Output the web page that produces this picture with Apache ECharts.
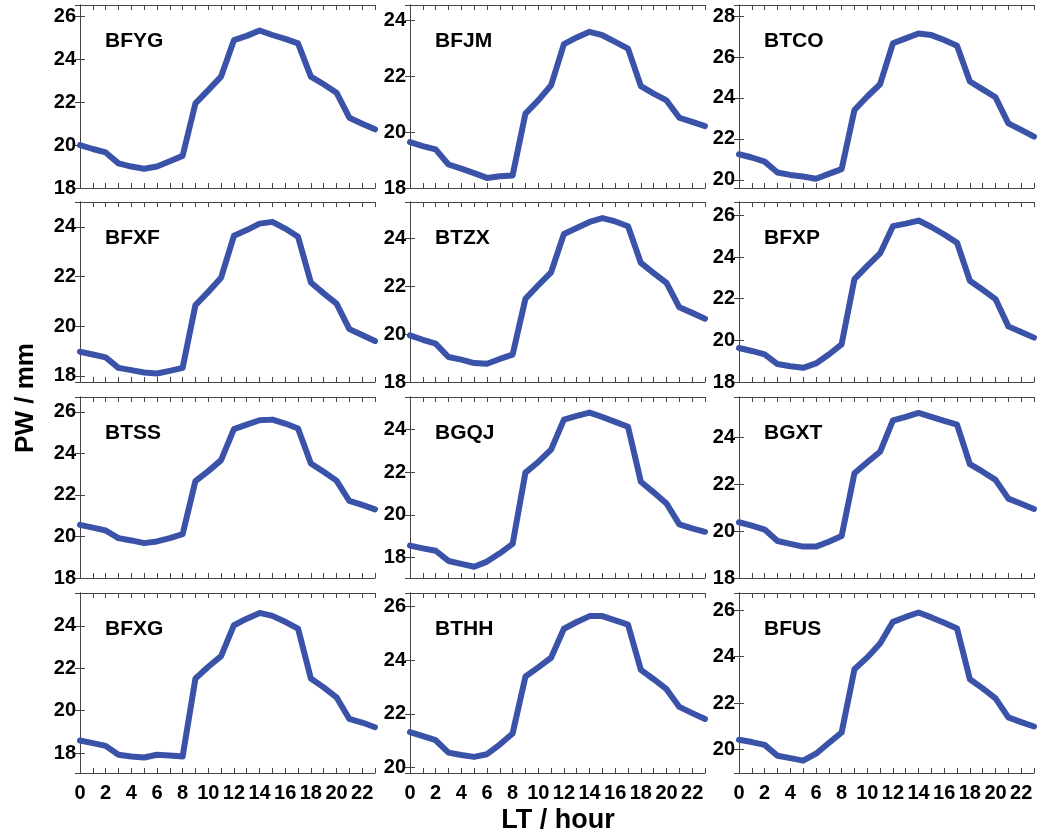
<!DOCTYPE html>
<html>
<head>
<meta charset="utf-8">
<script src="https://cdn.jsdelivr.net/npm/echarts@6/dist/echarts.min.js"></script>
<style>
html,body{margin:0;padding:0;background:#fff;}
#chart{width:1037px;height:839px;}
</style>
</head>
<body>
<div id="chart"></div>
<script>
const hours = [0,1,2,3,4,5,6,7,8,9,10,11,12,13,14,15,16,17,18,19,20,21,22,23];
const xTickLabels = ['0','2','4','6','8','10','12','14','16','18','20','22'];
const stations = ['BFYG','BFJM','BTCO','BFXF','BTZX','BFXP','BTSS','BGQJ','BGXT','BFXG','BTHH','BFUS'];

const BFYG = [20.0,19.82,19.66,19.15,19.0,18.9,19.0,19.25,19.5,21.95,22.57,23.2,24.9,25.1,25.35,25.14,24.96,24.75,23.2,22.84,22.45,21.28,21.0,20.74];
const BFJM = [19.64,19.5,19.38,18.84,18.69,18.53,18.36,18.42,18.45,20.66,21.13,21.67,23.14,23.38,23.58,23.46,23.22,22.98,21.64,21.37,21.13,20.51,20.36,20.21];
const BTCO = [21.25,21.09,20.89,20.36,20.24,20.16,20.05,20.29,20.52,23.41,24.07,24.67,26.67,26.91,27.15,27.07,26.83,26.55,24.8,24.42,24.03,22.76,22.44,22.11];
const BFXF = [18.97,18.86,18.74,18.32,18.23,18.13,18.09,18.2,18.32,20.85,21.38,21.95,23.64,23.87,24.13,24.2,23.93,23.6,21.76,21.32,20.91,19.88,19.64,19.4];
const BTZX = [19.94,19.76,19.6,19.04,18.93,18.79,18.76,18.96,19.14,21.47,22.03,22.57,24.17,24.42,24.67,24.83,24.69,24.49,22.96,22.54,22.13,21.11,20.88,20.64];
const BFXP = [19.63,19.49,19.33,18.86,18.76,18.68,18.89,19.32,19.81,22.94,23.57,24.17,25.48,25.6,25.75,25.44,25.08,24.68,22.86,22.43,21.98,20.67,20.4,20.13];
const BTSS = [20.56,20.43,20.29,19.92,19.81,19.68,19.76,19.92,20.11,22.67,23.15,23.68,25.17,25.39,25.6,25.63,25.44,25.2,23.52,23.12,22.69,21.71,21.52,21.31];
const BGQJ = [18.55,18.42,18.31,17.83,17.69,17.56,17.8,18.19,18.63,21.98,22.48,23.06,24.47,24.64,24.8,24.59,24.36,24.13,21.55,21.05,20.53,19.55,19.36,19.2];
const BGXT = [20.38,20.24,20.07,19.58,19.46,19.34,19.34,19.55,19.79,22.47,22.94,23.39,24.73,24.88,25.05,24.88,24.71,24.55,22.86,22.54,22.19,21.39,21.17,20.95];
const BFXG = [18.59,18.47,18.34,17.92,17.84,17.79,17.92,17.89,17.84,21.52,22.07,22.57,24.03,24.34,24.61,24.47,24.19,23.87,21.52,21.1,20.63,19.61,19.44,19.22];
const BTHH = [21.32,21.17,21.02,20.56,20.47,20.4,20.5,20.86,21.27,23.39,23.73,24.09,25.17,25.42,25.64,25.64,25.48,25.32,23.64,23.29,22.92,22.26,22.03,21.81];
const BFUS = [20.43,20.33,20.21,19.74,19.64,19.53,19.83,20.29,20.74,23.46,23.97,24.57,25.5,25.71,25.9,25.69,25.46,25.21,23.03,22.64,22.21,21.39,21.19,21.0];

const yMin = [18, 18, 19.6, 17.75, 18, 18, 18, 17.03, 18, 17.06, 19.8, 19.0];
const yMax = [26.54, 24.54, 28.54, 25.0, 25.5, 26.64, 26.72, 25.53, 25.73, 25.55, 26.5, 26.74];

const seriesValues = [BFYG,BFJM,BTCO,BFXF,BTZX,BFXP,BTSS,BGQJ,BGXT,BFXG,BTHH,BFUS];

const colLeft = [80, 410, 739];
const colWidth = 295;
const rowTop = [5, 202, 397, 593];
const rowHeight = [183, 180, 181, 180];

const lineColor = '#3a52a8';
const axisColor = '#444';
const font = 'Liberation Sans, Arial, sans-serif';

const grids = [], xAxes = [], yAxes = [], series = [], graphics = [];

stations.forEach((name, i) => {
  const r = Math.floor(i / 3), c = i % 3;
  grids.push({left: colLeft[c], top: rowTop[r], width: colWidth, height: rowHeight[r], containLabel: false});
  const showX = r === 3;
  const xBase = {
    type: 'value', gridIndex: i, min: 0, max: 23, interval: 1,
    axisLine: {show: true, lineStyle: {color: axisColor, width: 1}},
    axisTick: {show: true, inside: true, length: 5, lineStyle: {color: axisColor}},
    splitLine: {show: false}
  };
  xAxes.push(Object.assign({}, xBase, {
    position: 'bottom',
    axisLabel: {
      show: showX, margin: 10, color: '#000', fontWeight: 'bold', fontSize: 20, fontFamily: font,
      formatter: v => { const s = String(Math.round(v)); return xTickLabels.indexOf(s) >= 0 && Math.abs(v - Math.round(v)) < 1e-6 ? s : ''; }
    }
  }));
  xAxes.push(Object.assign({}, xBase, {position: 'top', axisLabel: {show: false}}));
  const yBase = {
    type: 'value', gridIndex: i, min: yMin[i], max: yMax[i], splitNumber: 4, minInterval: 2, maxInterval: 2,
    axisLine: {show: true, lineStyle: {color: axisColor, width: 1}},
    axisTick: {show: true, inside: true, length: 5, lineStyle: {color: axisColor}},
    splitLine: {show: false}
  };
  yAxes.push(Object.assign({}, yBase, {
    position: 'left',
    axisLabel: {
      show: true, margin: 4, color: '#000', fontWeight: 'bold', fontSize: 20, fontFamily: font,
      formatter: v => { const n = Math.round(v); return (Math.abs(v - n) < 1e-6 && n % 2 === 0) ? String(n) : ''; }
    }
  }));
  yAxes.push(Object.assign({}, yBase, {position: 'right', axisLabel: {show: false}}));
  series.push({
    type: 'line', name: name, xAxisIndex: 2 * i, yAxisIndex: 2 * i,
    data: hours.map((h, k) => [h, seriesValues[i][k]]),
    showSymbol: false, symbol: 'none', smooth: false,
    lineStyle: {color: lineColor, width: 6, cap: 'round', join: 'round'},
    animation: false
  });
  graphics.push({
    type: 'text', left: colLeft[c] + 25, top: rowTop[r] + 26,
    style: {text: name, fill: '#000', font: 'bold 21px ' + font}
  });
});

graphics.push({
  type: 'text', x: 26, y: 398, rotation: Math.PI / 2,
  style: {text: 'PW / mm', fill: '#000', font: 'bold 26px ' + font, textAlign: 'center', textVerticalAlign: 'middle'}
});
graphics.push({
  type: 'text', x: 558, y: 821,
  style: {text: 'LT / hour', fill: '#000', font: 'bold 27px ' + font, textAlign: 'center', textVerticalAlign: 'middle'}
});

const chart = echarts.init(document.getElementById('chart'), null, {renderer: 'canvas'});
chart.setOption({
  backgroundColor: '#fff',
  animation: false,
  grid: grids,
  xAxis: xAxes,
  yAxis: yAxes,
  series: series,
  graphic: graphics
});
</script>
</body>
</html>
